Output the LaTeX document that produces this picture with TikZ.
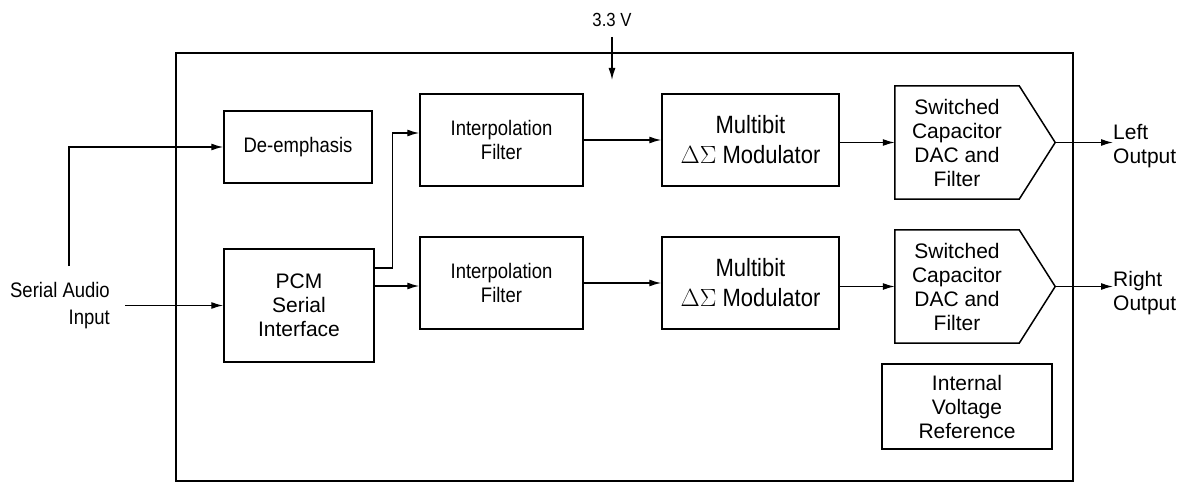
\documentclass[tikz,border=0pt]{standalone}
\usepackage{fontspec}
\setmainfont{Liberation Sans}
\newfontfamily\condf{Liberation Sans}[FakeStretch=0.88]
\newfontfamily\grkf{Liberation Serif}
\usetikzlibrary{arrows.meta}
\newcommand\nrmtxt{\fontsize{21}{24}\selectfont}
\newcommand\cndtxt{\condf\fontsize{21}{24}\selectfont}
\newcommand\bigtxt{\condf\fontsize{25}{30}\selectfont}
\begin{document}
\begin{tikzpicture}[x=1pt,y=-1pt,
  blk/.style={draw,line width=1.5pt,inner sep=0pt,align=center},
  conn/.style={line width=1.4pt,-{Latex[length=12pt,width=7pt]}},
  lbl/.style={inner sep=0pt}]
\useasboundingbox (0,0) rectangle (1188,484);
% chip outline
\node[draw,line width=2.6pt,minimum width=897pt,minimum height=428pt,inner sep=0pt] (chip) at (624.5,267) {};
% supply
\node[lbl,font=\condf\fontsize{19}{20}\selectfont] (vcc) at (612,20) {3.3 V};
\coordinate (vin) at (612,80);
\draw[conn] ([yshift=-10pt]vcc.south) -- (vin);
% top channel
\node[blk,font=\cndtxt,minimum width=148pt,minimum height=72pt] (de) at (298,147) {De-emphasis};
\node[blk,font=\cndtxt,minimum width=163pt,minimum height=92pt] (int1) at (501.5,140) {Interpolation\\Filter};
\node[blk,font=\bigtxt,minimum width=177pt,minimum height=92pt] (mod1) at (750.5,140) {Multibit\\{\grkf$\Delta\Sigma$} Modulator};
\node[inner sep=0pt,align=center,font=\nrmtxt,minimum width=124pt,minimum height=113pt] (sw1) at (957,142.5) {Switched\\Capacitor\\DAC and\\Filter};
\draw[line width=1.5pt,line join=miter] (sw1.north west) -- (sw1.north east) -- ([xshift=36pt]sw1.east) -- (sw1.south east) -- (sw1.south west) -- cycle;
\coordinate (t1) at ([xshift=36pt]sw1.east);
% bottom channel
\node[blk,font=\nrmtxt,minimum width=150pt,minimum height=113pt] (pcm) at (299,305.5) {PCM\\Serial\\Interface};
\node[blk,font=\cndtxt,minimum width=163pt,minimum height=92pt] (int2) at (501.5,283) {Interpolation\\Filter};
\node[blk,font=\bigtxt,minimum width=177pt,minimum height=92pt] (mod2) at (750.5,283) {Multibit\\{\grkf$\Delta\Sigma$} Modulator};
\node[inner sep=0pt,align=center,font=\nrmtxt,minimum width=124pt,minimum height=113pt] (sw2) at (957,286.5) {Switched\\Capacitor\\DAC and\\Filter};
\draw[line width=1.5pt,line join=miter] (sw2.north west) -- (sw2.north east) -- ([xshift=36pt]sw2.east) -- (sw2.south east) -- (sw2.south west) -- cycle;
\coordinate (t2) at ([xshift=36pt]sw2.east);
% reference
\node[blk,font=\nrmtxt,minimum width=170pt,minimum height=85pt] (ivr) at (967,406.5) {Internal\\Voltage\\Reference};

% external labels
\node[lbl,font=\condf\fontsize{21}{27}\selectfont,align=right,anchor=east] (sain) at (110,306) {Serial Audio\\Input};
\node[lbl,font=\nrmtxt,align=left,anchor=west] (lo) at (1113,146) {Left\\Output};
\node[lbl,font=\nrmtxt,align=left,anchor=west] (ro) at (1113,293) {Right\\Output};

% connections
\coordinate (inst) at (125,305.5);
\draw[conn] (inst) -- (inst -| pcm.west);
\coordinate (vbot) at (69,266);
\draw[conn] (vbot) |- (de.west);
\draw[conn] ([yshift=37.5pt]pcm.east) -- ++(18,0) |- ([yshift=7pt]int1.west);
\draw[conn] ([yshift=-3pt]pcm.east |- int2.west) -- ([yshift=-3pt]int2.west);
\draw[conn] (int1.east) -- (mod1.west);
\draw[conn] (mod1.east |- sw1.west) -- (sw1.west);
\draw[conn] (int2.east) -- (mod2.west);
\draw[conn] (mod2.east |- sw2.west) -- (sw2.west);
\draw[conn] (t1) -- (t1 -| lo.west);
\draw[conn] (t2) -- (t2 -| ro.west);
\end{tikzpicture}
\end{document}
